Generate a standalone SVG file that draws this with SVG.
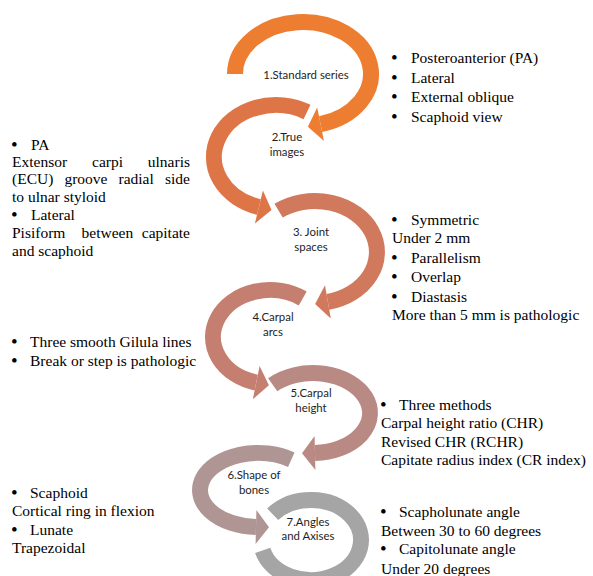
<svg xmlns="http://www.w3.org/2000/svg" width="593" height="576" viewBox="0 0 593 576">
<style>
.band{fill:none;stroke-width:16;stroke-linecap:butt}
.lbl{font-family:Lato,"Liberation Sans",sans-serif;font-size:11.4px;fill:#1e1e1e;text-anchor:middle}
.note{font-family:"Liberation Serif","Times New Roman",serif;font-size:15.5px;fill:#000}
.b{font-size:19px}
.c1{stroke:#ED7D31}.f1{fill:#ED7D31}
.c2{stroke:#DE7547}.f2{fill:#DE7547}
.c3{stroke:#D1795C}.f3{fill:#D1795C}
.c4{stroke:#C57F70}.f4{fill:#C57F70}
.c5{stroke:#B98A83}.f5{fill:#B98A83}
.c6{stroke:#AF9695}.f6{fill:#AF9695}
.c7{stroke:#A5A5A5}
</style>
<rect width="593" height="576" fill="#fff"/>

<g id="node1">
<path class="band c1" d="M235 74 A68 52 0 1 1 320.6 124.2"/>
<polygon class="f1" points="324,140.9 317.2,107.5 307.9,126.8"/>
<text class="lbl" x="306" y="79">1.Standard series</text>
</g>

<g id="node2">
<path class="band c2" d="M307 112 A62 52 0 1 0 258.9 207"/>
<polygon class="f2" points="254.9,223.5 262.9,190.5 271.5,210"/>
<text class="lbl" x="287" y="141">2.True</text>
<text class="lbl" x="287" y="156">images</text>
</g>

<g id="node3">
<path class="band c3" d="M278.6 210.7 A62 51 0 1 1 327.9 301.9"/>
<polygon class="f3" points="330.8,318.6 325,285.2 315.1,304.1"/>
<text class="lbl" x="311" y="236">3. Joint</text>
<text class="lbl" x="311" y="251">spaces</text>
</g>

<g id="node4">
<path class="band c4" d="M302.7 298.5 A57 47 0 1 0 256.2 382.6"/>
<polygon class="f4" points="252.8,399.3 259.6,366 268.9,385.2"/>
<text class="lbl" x="273" y="321">4.Carpal</text>
<text class="lbl" x="273" y="336">arcs</text>
</g>

<g id="node5">
<path class="band c5" d="M272.7 384.7 A57 40 0 1 1 315 453"/>
<polygon class="f5" points="315.4,470 314.6,436 302,453.3"/>
<text class="lbl" x="311" y="397">5.Carpal</text>
<text class="lbl" x="311" y="412">height</text>
</g>

<g id="node6">
<path class="band c6" d="M291.3 459.7 A58 37 0 1 0 256 527"/>
<polygon class="f6" points="255.6,544 256.4,510 269,527.3"/>
<text class="lbl" x="254" y="479">6.Shape of</text>
<text class="lbl" x="254" y="494">bones</text>
</g>

<g id="node7">
<path class="band c7" d="M272.7 514.3 A50 40 0 1 1 262.7 550.4"/>
<text class="lbl" x="308" y="526">7.Angles</text>
<text class="lbl" x="308" y="540">and Axises</text>
</g>

<g id="notes1" class="note">
<text class="b" x="391" y="64">•</text><text x="411" y="63">Posteroanterior (PA)</text>
<text class="b" x="391" y="84">•</text><text x="411" y="83">Lateral</text>
<text class="b" x="391" y="103">•</text><text x="411" y="102">External oblique</text>
<text class="b" x="391" y="123">•</text><text x="411" y="122">Scaphoid view</text>
</g>

<g id="notes2" class="note">
<text class="b" x="11" y="151">•</text><text x="31" y="150">PA</text>
<text x="12" y="167">Extensor</text><text x="92" y="167">carpi</text><text x="190" y="167" text-anchor="end">ulnaris</text>
<text x="12" y="184">(ECU)</text><text x="64.4" y="184">groove</text><text x="118.5" y="184">radial</text><text x="190" y="184" text-anchor="end">side</text>
<text x="12" y="202">to ulnar styloid</text>
<text class="b" x="11" y="221">•</text><text x="31" y="220">Lateral</text>
<text x="12" y="238">Pisiform</text><text x="81.6" y="238">between</text><text x="190" y="238" text-anchor="end">capitate</text>
<text x="12" y="256">and scaphoid</text>
</g>

<g id="notes3" class="note">
<text class="b" x="391" y="226">•</text><text x="411" y="225">Symmetric</text>
<text x="392" y="243">Under 2 mm</text>
<text class="b" x="391" y="264">•</text><text x="411" y="263">Parallelism</text>
<text class="b" x="391" y="283">•</text><text x="411" y="282">Overlap</text>
<text class="b" x="391" y="303">•</text><text x="411" y="302">Diastasis</text>
<text x="392" y="320">More than 5 mm is pathologic</text>
</g>

<g id="notes4" class="note">
<text class="b" x="11" y="348">•</text><text x="30" y="347">Three smooth Gilula lines</text>
<text class="b" x="11" y="367">•</text><text x="30" y="366">Break or step is pathologic</text>
</g>

<g id="notes5" class="note">
<text class="b" x="380" y="411">•</text><text x="399" y="410">Three methods</text>
<text x="381" y="428">Carpal height ratio (CHR)</text>
<text x="381" y="447">Revised CHR (RCHR)</text>
<text x="381" y="465">Capitate radius index (CR index)</text>
</g>

<g id="notes6" class="note">
<text class="b" x="11" y="499">•</text><text x="30" y="498">Scaphoid</text>
<text x="12" y="516">Cortical ring in flexion</text>
<text class="b" x="11" y="536">•</text><text x="30" y="535">Lunate</text>
<text x="12" y="553">Trapezoidal</text>
</g>

<g id="notes7" class="note">
<text class="b" x="380" y="518">•</text><text x="399" y="517">Scapholunate angle</text>
<text x="381" y="536">Between 30 to 60 degrees</text>
<text class="b" x="380" y="555">•</text><text x="399" y="554">Capitolunate angle</text>
<text x="381" y="574">Under 20 degrees</text>
</g>
</svg>
